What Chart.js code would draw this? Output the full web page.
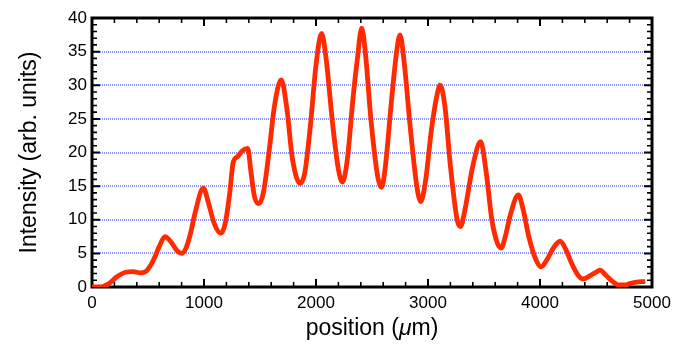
<!DOCTYPE html>
<html><head><meta charset="utf-8">
<script src="https://cdn.jsdelivr.net/npm/chart.js@4/dist/chart.umd.min.js"></script>
<style>html,body{margin:0;padding:0;background:#fff;}</style>
</head><body>
<canvas id="c" width="685" height="347" style="display:block;width:685px;height:347px"></canvas>
<script>
// ---- data ----
const positions = [0,80,150,220,300,370,430,480,530,570,600,652,700,760,800,840,880,920,994,1040,1090,1150,1190,1230,1260,1300,1340,1390,1420,1450,1490,1530,1580,1630,1690,1740,1790,1860,1900,1950,2000,2050,2090,2150,2200,2235,2280,2330,2370,2408,2440,2490,2550,2585,2620,2670,2720,2750,2790,2840,2900,2935,2980,3030,3080,3107,3150,3200,3260,3290,3330,3400,3470,3520,3570,3620,3655,3690,3740,3806,3850,3900,3960,4010,4060,4120,4180,4230,4280,4330,4380,4440,4490,4536,4590,4650,4700,4760,4800,4850,4900,4940];
const intensity = [0,0,0.5,1.5,2.2,2.3,2.1,2.3,3.4,4.8,6.0,7.5,6.8,5.4,5.0,5.8,8.0,11,14.7,12.5,9.5,8.0,9.5,14,18.5,19.4,20.2,20.6,17,13.5,12.4,14,20,27,30.8,26.5,19,15.4,17,24,33,37.7,34,24,17.5,15.6,19,28,34,38.5,35,25,16.5,14.8,18,27,35,37.5,33,24,15,12.7,16,23.3,28.5,30.0,27,18,10,9.0,11.5,18,21.6,17,10,6.5,5.8,7.5,11,13.7,11.5,7.5,4.2,3.0,4.0,5.8,6.8,5.6,3.6,2.0,1.2,1.6,2.1,2.5,1.7,0.8,0.3,0.3,0.5,0.7,0.8,0.8];
const xTickLabels = [0,1000,2000,3000,4000,5000];
const yTickLabels = [0,5,10,15,20,25,30,35,40];
const xTitle = ["position (", "μ", "m)"];
const yTitle = "Intensity (arb. units)";

const FONT = "'Liberation Sans', Arial, Helvetica, sans-serif";

const framePlugin = {
  id: 'frame',
  beforeDatasetsDraw(chart) {
    const {ctx, chartArea: a, scales: {x, y}} = chart;
    ctx.save();
    ctx.strokeStyle = '#000';
    for (let v = 0; v <= 5000; v += 200) {
      const px = x.getPixelForValue(v);
      const major = v % 1000 === 0;
      const len = major ? 8 : 5;
      ctx.lineWidth = major ? 2 : 1.6;
      ctx.beginPath();
      ctx.moveTo(px, a.bottom); ctx.lineTo(px, a.bottom - len);
      ctx.moveTo(px, a.top); ctx.lineTo(px, a.top + len);
      ctx.stroke();
    }
    for (let v = 0; v <= 40; v += 1) {
      const py = y.getPixelForValue(v);
      const major = v % 5 === 0;
      const len = major ? 8 : 5;
      ctx.lineWidth = major ? 2 : 1.6;
      ctx.beginPath();
      ctx.moveTo(a.left, py); ctx.lineTo(a.left + len, py);
      ctx.moveTo(a.right, py); ctx.lineTo(a.right - len, py);
      ctx.stroke();
    }
    ctx.lineWidth = 3;
    ctx.strokeRect(a.left, a.top, a.right - a.left, a.bottom - a.top);
    ctx.restore();
  },
  afterDraw(chart) {
    const {ctx, chartArea: a} = chart;
    ctx.save();
    ctx.fillStyle = '#000';
    ctx.translate(30, (a.top + a.bottom) / 2);
    ctx.rotate(-Math.PI / 2);
    ctx.font = '23px ' + FONT;
    ctx.textAlign = 'center';
    ctx.textBaseline = 'middle';
    ctx.fillText(yTitle, 0, 0);
    ctx.restore();
    ctx.save();
    ctx.fillStyle = '#000';
    ctx.textBaseline = 'alphabetic';
    ctx.textAlign = 'left';
    const fonts = ['23px ' + FONT, 'italic 23px ' + FONT, '23px ' + FONT];
    let total = 0;
    const widths = xTitle.map((t, i) => { ctx.font = fonts[i]; const w = ctx.measureText(t).width; total += w; return w; });
    let cx = (a.left + a.right) / 2 - total / 2;
    xTitle.forEach((t, i) => { ctx.font = fonts[i]; ctx.fillText(t, cx, 335); cx += widths[i]; });
    ctx.restore();
  }
};

new Chart(document.getElementById('c'), {
  type: 'line',
  data: {
    datasets: [{
      data: positions.map((p, i) => ({x: p, y: intensity[i]})),
      borderColor: '#ff2a00',
      borderWidth: 4.8,
      pointRadius: 0,
      cubicInterpolationMode: 'monotone',
      fill: false
    }]
  },
  options: {
    responsive: false,
    animation: false,
    devicePixelRatio: 1,
    layout: {padding: {left: 0, top: 18, right: 33, bottom: 0}},
    plugins: {legend: {display: false}, tooltip: {enabled: false}},
    scales: {
      x: {
        type: 'linear', min: 0, max: 5000,
        afterFit: s => { s.height = 60; },
        afterBuildTicks: s => { s.ticks = xTickLabels.map(v => ({value: v})); },
        ticks: {font: {size: 17, family: FONT}, color: '#000', padding: 6, maxRotation: 0, callback: v => String(v)},
        grid: {display: false, drawTicks: false},
        border: {display: false}
      },
      y: {
        type: 'linear', min: 0, max: 40,
        afterFit: s => { s.width = 92; },
        afterBuildTicks: s => { s.ticks = yTickLabels.map(v => ({value: v})); },
        ticks: {font: {size: 17, family: FONT}, color: '#000', padding: 5, callback: v => String(v)},
        grid: {
          drawTicks: false,
          lineWidth: 2,
          color: c => (c.tick && c.tick.value > 0 && c.tick.value < 40) ? 'rgba(95,115,240,0.75)' : 'rgba(0,0,0,0)'
        },
        border: {display: false, dash: [1, 1]}
      }
    }
  },
  plugins: [framePlugin]
});
</script>
</body></html>
